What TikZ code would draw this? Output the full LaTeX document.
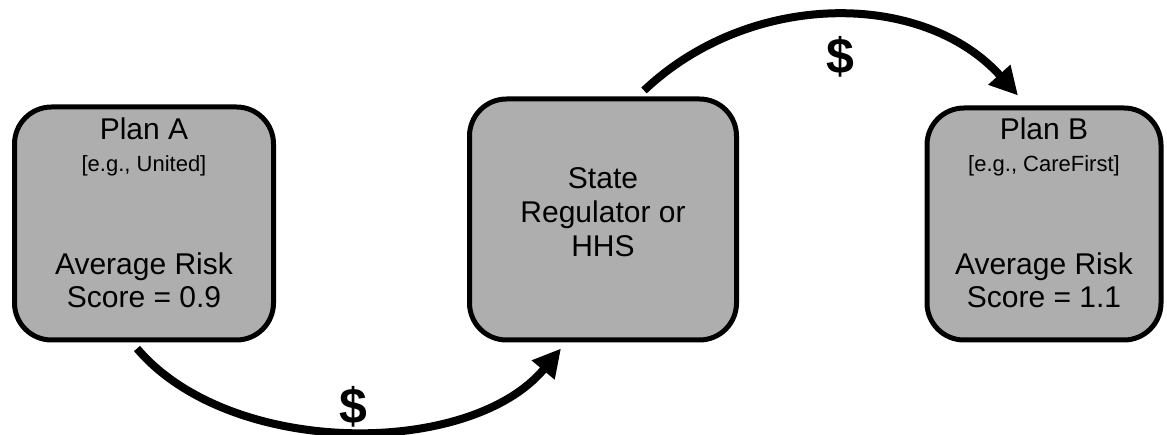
\documentclass[tikz,border=0pt]{standalone}
\usepackage{fontspec}
\setmainfont{Liberation Sans}
\usetikzlibrary{arrows.meta}
\definecolor{boxgray}{RGB}{174,174,174}
\tikzset{
  planbox/.style={draw=black, fill=boxgray, line width=5pt, rounded corners=37pt, inner sep=0pt},
  bigtxt/.style={anchor=base, inner sep=0pt, font=\fontsize{30}{34}\selectfont},
  smalltxt/.style={anchor=base, inner sep=0pt, font=\fontsize{22}{25}\selectfont},
  flow/.style={line width=8pt, -{Triangle[length=28pt,width=28pt]}},
  dollar/.style={inner sep=0pt, font=\fontsize{50}{54}\selectfont\bfseries}
}
\begin{document}
\begin{tikzpicture}[x=1pt,y=-1pt]
\useasboundingbox (0,0) rectangle (1167,435);
% boxes
\node[planbox, minimum width=259pt, minimum height=233pt] (a) at (144,223.5) {};
\node[planbox, minimum width=267pt, minimum height=241pt] (s) at (603,219.5) {};
\node[planbox, minimum width=234pt, minimum height=232pt] (b) at (1044,224) {};
% Plan A text
\node[bigtxt] (a1) at (144,140) {Plan A};
\node[smalltxt] (a2) at (144,172) {[e.g., United]};
\node[bigtxt] (a3) at (144,275) {Average Risk};
\node[bigtxt] (a4) at (144,308) {Score = 0.9};
% State text
\node[bigtxt] (s1) at (603,189) {State};
\node[bigtxt] (s2) at (603,223) {Regulator or};
\node[bigtxt] (s3) at (603,257) {HHS};
% Plan B text
\node[bigtxt] (b1) at (1044,140) {Plan B};
\node[smalltxt] (b2) at (1044,172) {[e.g., CareFirst]};
\node[bigtxt] (b3) at (1044,275) {Average Risk};
\node[bigtxt] (b4) at (1044,308) {Score = 1.1};
% connectors
\draw[flow] ([xshift=-7pt,yshift=-6pt]a.south) .. controls (230,458) and (470,458) .. ([xshift=-42pt,yshift=-6pt]s.south);
\draw[flow] ([xshift=41pt,yshift=6pt]s.north) .. controls (750,-10) and (923,-10) .. ([xshift=-26pt,yshift=10pt]b.north);
% labels
\node[dollar] (d1) at (353,407) {\$};
\node[dollar] (d2) at (840,57) {\$};
\end{tikzpicture}
\end{document}
